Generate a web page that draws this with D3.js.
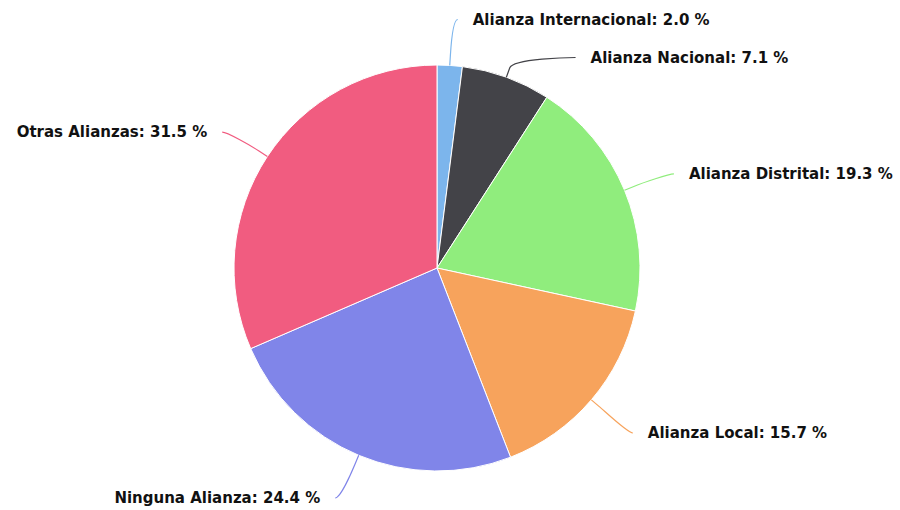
<!DOCTYPE html>
<html>
<head>
<meta charset="utf-8">
<script src="https://cdn.jsdelivr.net/npm/d3@7/dist/d3.min.js"></script>
<style>
  body { margin: 0; background: #fff; }
  text { font-family: "DejaVu Sans", Verdana, sans-serif; font-weight: bold; font-size: 15px; fill: #111; }
</style>
</head>
<body>
<div id="chart"></div>
<script>
// slice data, clockwise from the top
var categories = ["Alianza Internacional", "Alianza Nacional", "Alianza Distrital", "Alianza Local", "Ninguna Alianza", "Otras Alianzas"];
var values = [2.0, 7.1, 19.3, 15.7, 24.4, 31.5];
var colors = ["#7cb5ec", "#434348", "#90ed7d", "#f7a35c", "#8085e9", "#f15c80"];

var width = 900, height = 510;
var cx = 437, cy = 268, r = 203;
var labelR = r + 48;   // radius where labels sit
var minGap = 38;       // min vertical space between labels on one side
var yShift = 2;

var data = categories.map(function (c, i) { return { name: c, value: values[i], color: colors[i] }; });

var svg = d3.select("#chart").append("svg")
    .attr("width", width)
    .attr("height", height);

var pie = d3.pie().sort(null).value(function (d) { return d.value; });
var arcs = pie(data);

var arc = d3.arc().innerRadius(0).outerRadius(r);

var g = svg.append("g").attr("transform", "translate(" + cx + "," + cy + ")");

g.selectAll("path.slice")
    .data(arcs)
    .enter().append("path")
    .attr("class", "slice")
    .attr("d", arc)
    .attr("fill", function (d) { return d.data.color; })
    .attr("stroke", "#fff")
    .attr("stroke-width", 1);

// label positions: angle based, then pushed apart per side
var labels = arcs.map(function (d) {
    var a = (d.startAngle + d.endAngle) / 2;
    return {
        d: d,
        angle: a,
        right: Math.sin(a) >= 0,
        y: -labelR * Math.cos(a)
    };
});

[true, false].forEach(function (side) {
    var list = labels.filter(function (l) { return l.right === side; })
        .sort(function (a, b) { return a.y - b.y; });
    for (var i = 1; i < list.length; i++) {
        if (list[i].y - list[i - 1].y < minGap) list[i].y = list[i - 1].y + minGap;
    }
});

labels.forEach(function (l) {
    var dy = Math.max(-labelR, Math.min(labelR, l.y));
    var dx = Math.sqrt(labelR * labelR - dy * dy);
    l.x = l.right ? dx : -dx;
    // keep the text inside the svg
    l.y = Math.min(l.y + yShift, height - cy - 12);
});

// soft connectors like highcharts
function connector(l) {
    var s = Math.sin(l.angle), c = -Math.cos(l.angle);
    var ex = s * r, ey = c * r;               // on the edge
    var bx = s * (r + 10), by = c * (r + 10); // just outside
    var lx = l.x, ly = l.y;
    return "M" + (lx + (l.right ? 5 : -5)) + "," + ly +
        "C" + lx + "," + ly + " " + (2 * bx - ex) + "," + (2 * by - ey) + " " + bx + "," + by +
        "L" + ex + "," + ey;
}

g.selectAll("path.conn")
    .data(labels)
    .enter().append("path")
    .attr("class", "conn")
    .attr("d", connector)
    .attr("fill", "none")
    .attr("stroke", function (l) { return l.d.data.color; })
    .attr("stroke-width", 1.2);

g.selectAll("text.lbl")
    .data(labels)
    .enter().append("text")
    .attr("class", "lbl")
    .attr("x", function (l) { return l.right ? l.x + 20 : l.x - 20; })
    .attr("y", function (l) { return l.y; })
    .attr("dy", "0.35em")
    .attr("text-anchor", function (l) { return l.right ? "start" : "end"; })
    .text(function (l) { return l.d.data.name + ": " + l.d.data.value.toFixed(1) + " %"; });
</script>
</body>
</html>
